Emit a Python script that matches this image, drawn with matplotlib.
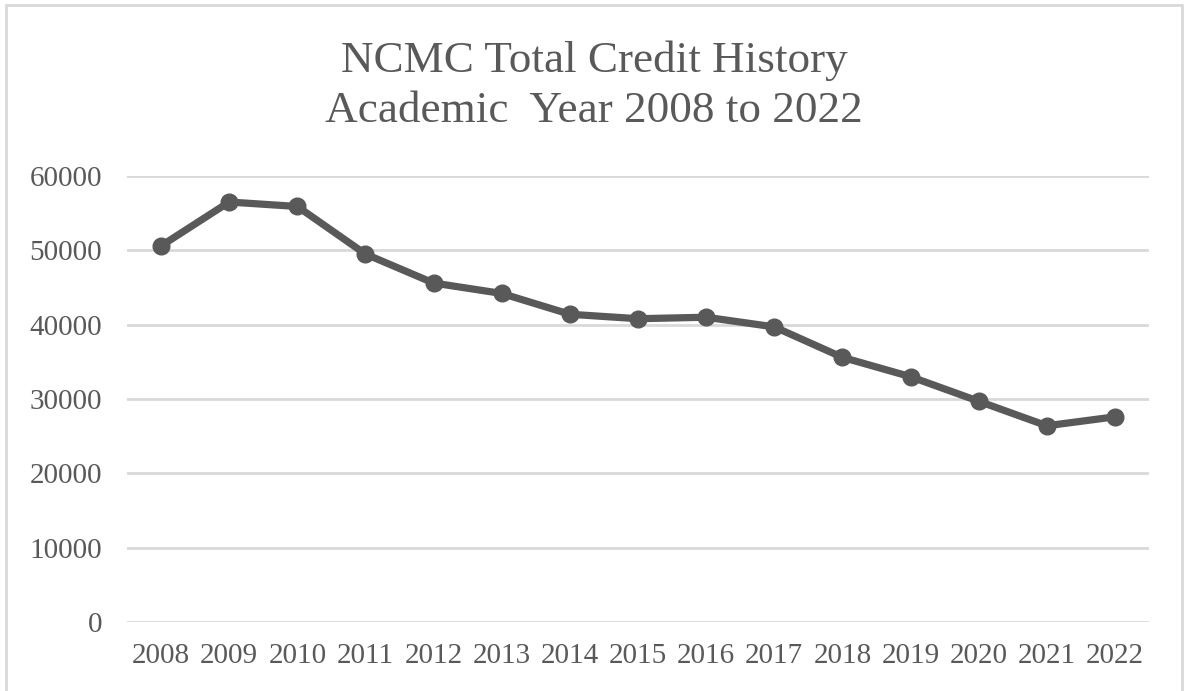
import matplotlib
matplotlib.use("Agg")
import matplotlib.pyplot as plt
from matplotlib.patches import Rectangle

years = [str(y) for y in range(2008, 2023)]
credits = [50600, 56500, 55900, 49500, 45600, 44200, 41400, 40800,
           41000, 39700, 35600, 33000, 29700, 26400, 27600]
yticks = [0, 10000, 20000, 30000, 40000, 50000, 60000]

plt.rcParams["font.family"] = ["Liberation Serif", "DejaVu Serif"]
txt = "#595959"
grid = "#d9d9d9"

fig = plt.figure(figsize=(11.84, 6.91), dpi=100)
fig.patches.append(Rectangle((6 / 1184, -0.1), 1176 / 1184, 1.1 - 5 / 691,
                             transform=fig.transFigure, fill=False,
                             ec=grid, lw=2))
ax = fig.add_axes([127 / 1184, 69 / 691, 1022 / 1184, 446 / 691])

x = range(len(years))
ax.plot(x, credits, color=txt, lw=5.2, marker="o", ms=12,
        solid_capstyle="round", zorder=3)
ax.set_xlim(-0.5, len(years) - 0.5)
ax.set_ylim(0, 60000)
ax.set_yticks(yticks)
ax.set_xticks(list(x), years)
ax.grid(axis="y", color=grid, lw=2)
ax.set_axisbelow(True)
for s in ax.spines.values():
    s.set_visible(False)
ax.tick_params(length=0, labelsize=21, colors=txt)
ax.tick_params(axis="y", pad=18)
ax.tick_params(axis="x", pad=15)

fig.text(0.502, 0.876, "NCMC Total Credit History\nAcademic  Year 2008 to 2022",
         ha="center", va="center", fontsize=32.5, color=txt, linespacing=1.32)

fig.savefig("out.png", dpi=100)
